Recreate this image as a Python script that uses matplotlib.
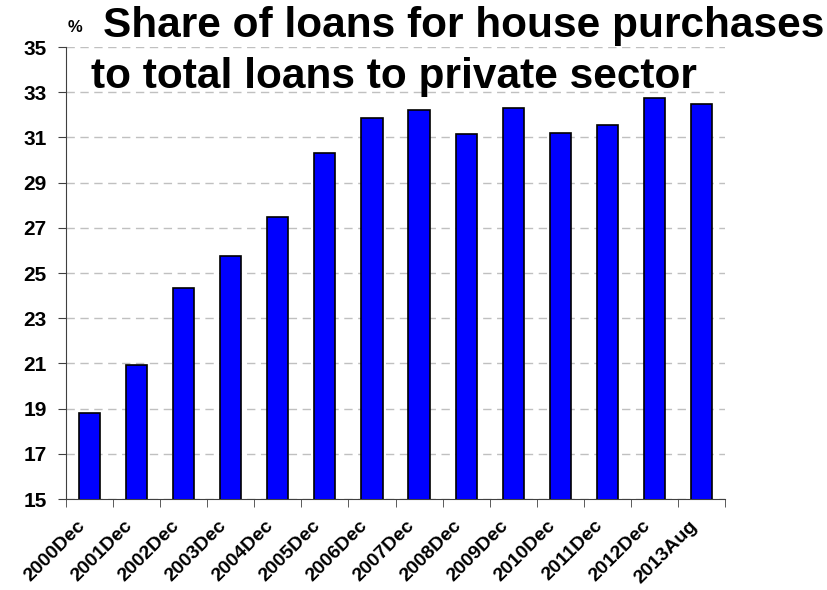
import numpy as np
import matplotlib.pyplot as plt
from matplotlib.transforms import ScaledTranslation

plt.rcParams['font.family'] = ['Liberation Sans', 'DejaVu Sans']
plt.rcParams['font.weight'] = 'bold'

periods = ["2000Dec", "2001Dec", "2002Dec", "2003Dec", "2004Dec", "2005Dec", "2006Dec",
           "2007Dec", "2008Dec", "2009Dec", "2010Dec", "2011Dec", "2012Dec", "2013Aug"]
share = [18.8, 20.94, 24.33, 25.77, 27.47, 30.29, 31.86,
         32.23, 31.15, 32.29, 31.21, 31.55, 32.76, 32.5]
yticks = [15, 17, 19, 21, 23, 25, 27, 29, 31, 33, 35]

fig = plt.figure(figsize=(8.27, 5.9), dpi=100)
ax = fig.add_axes([0.0798, 0.1542, 0.7969, 0.7661])

x = np.arange(len(periods))
ax.bar(x, share, width=0.45, color="#0000ff", edgecolor="black", linewidth=1.2, zorder=3)

ax.set_xlim(-0.5, len(periods) - 0.5)
ax.set_ylim(15, 35)
ax.set_yticks(yticks)
ax.set_yticklabels([str(v) for v in yticks], fontsize=15, fontweight='bold')
ax.yaxis.grid(True, linestyle=(0, (6, 4)), color="#c0c0c0", linewidth=1, zorder=0)

ax.set_xticks(x)
ax.set_xticklabels(periods, rotation=45, ha='right', rotation_mode='anchor',
                   fontsize=14, fontweight='bold')
ax.tick_params(axis='x', length=0, pad=13)
shift = ScaledTranslation(-0.13, 0, fig.dpi_scale_trans)
for lbl in ax.get_xticklabels():
    lbl.set_transform(lbl.get_transform() + shift)
ax.set_xticks(np.arange(-0.5, len(periods) + 0.5, 1), minor=True)
ax.tick_params(axis='x', which='minor', length=6, direction='out', color="#404040")
ax.tick_params(axis='y', length=6, direction='out', color="#404040", pad=8)

for s in ['top', 'right']:
    ax.spines[s].set_visible(False)
ax.spines['left'].set_color("#404040")
ax.spines['bottom'].set_color("#404040")

fig.text(103 / 827, 1 - 37 / 590, "Share of loans for house purchases", fontsize=30.5,
         fontweight='bold', ha='left', va='baseline')
fig.text(91 / 827, 1 - 88 / 590, "to total loans to private sector", fontsize=30.5,
         fontweight='bold', ha='left', va='baseline')
fig.text(68 / 827, 1 - 32 / 590, "%", fontsize=12, fontweight='bold', ha='left', va='baseline')

fig.savefig("out.png", dpi=100)
